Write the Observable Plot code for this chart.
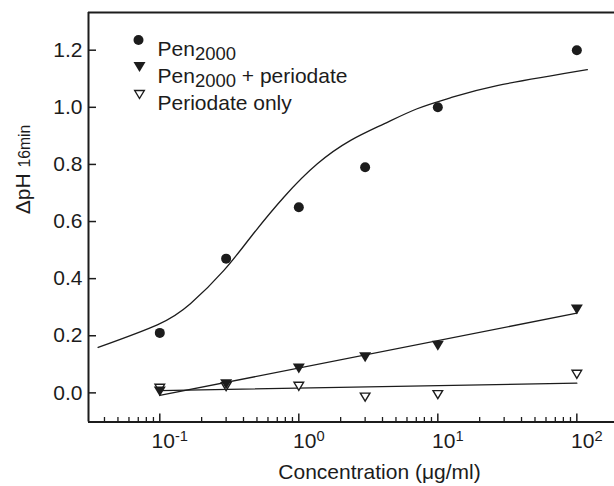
<!DOCTYPE html>
<html>
<head>
<meta charset="utf-8">
<script src="https://cdn.jsdelivr.net/npm/d3@7"></script>
<script src="https://cdn.jsdelivr.net/npm/@observablehq/plot@0.6"></script>
<style>
  html, body { margin: 0; padding: 0; background: #fff; }
</style>
</head>
<body>
<div id="chart"></div>
<script>
// ---- data ----
const concentrations = [0.1, 0.3, 1, 3, 10, 100];
const pen2000 = [0.21, 0.47, 0.65, 0.79, 1.0, 1.2];
const pen2000Periodate = [0.005, 0.03, 0.085, 0.125, 0.165, 0.292];
const periodateOnly = [0.016, 0.022, 0.023, -0.015, -0.006, 0.065];

// fitted curves
const fitPenX = [0.036, 0.096, 0.166, 0.288, 0.45, 0.78, 1.36, 2.36, 4.1, 7.1, 12.3, 26.7, 119];
const fitPenY = [0.159, 0.238, 0.312, 0.428, 0.545, 0.685, 0.802, 0.884, 0.942, 0.995, 1.033, 1.076, 1.132];
const fitLinX = [0.1, 100];
const fitPenPeriodateY = [-0.009, 0.279];
const fitPeriodateOnlyY = [0.008, 0.034];

// axes
const xDomain = [0.0307, 186.6];
const yDomain = [-0.102, 1.332];
const xMajorTicks = [0.1, 1, 10, 100];
const xTickLabels = ["10^{-1}", "10^{0}", "10^{1}", "10^{2}"];
const xMinorTicks = [0.04, 0.05, 0.06, 0.07, 0.08, 0.09,
                     0.2, 0.3, 0.4, 0.5, 0.6, 0.7, 0.8, 0.9,
                     2, 3, 4, 5, 6, 7, 8, 9,
                     20, 30, 40, 50, 60, 70, 80, 90];
const yTicks = [0, 0.2, 0.4, 0.6, 0.8, 1.0, 1.2];
const yTickLabels = ["0.0", "0.2", "0.4", "0.6", "0.8", "1.0", "1.2"];
const legendLabels = ["Pen_{2000}", "Pen_{2000} + periodate", "Periodate only"];
const xLabel = "Concentration (\u03bcg/ml)";
const yLabel = "\u0394pH ~{16min}";

// ---- build ----
const W = 614, H = 486;
const mL = 88, mT = 12, mB = 64.5, mR = 0;
const innerW = W - mL - mR, innerH = H - mT - mB;
const ink = "#1c1c1c";
const fs = 21;

const pts = (ys) => concentrations.map((x, i) => ({x, y: ys[i]}));
const fitPen = fitPenX.map((x, i) => ({x, y: fitPenY[i]}));
const fitA = fitLinX.map((x, i) => ({x, y: fitPenPeriodateY[i]}));
const fitB = fitLinX.map((x, i) => ({x, y: fitPeriodateOnlyY[i]}));

const triangleDown = {
  draw(context, size) {
    const r = Math.sqrt(size / Math.PI);
    context.moveTo(-1.2 * r, -r);
    context.lineTo(1.2 * r, -r);
    context.lineTo(0, r);
    context.closePath();
  }
};

const legendRows = [
  {dy: 27.5, symbol: "circle", r: 5, fill: ink, stroke: "none"},
  {dy: 54.5, symbol: triangleDown, r: 5, fill: ink, stroke: "none"},
  {dy: 82, symbol: triangleDown, r: 4, fill: "white", stroke: ink}
];

const marks = [
  // frame lines (left, bottom, top)
  Plot.ruleX([xDomain[0]], {stroke: ink, strokeWidth: 2}),
  Plot.ruleY([yDomain[0], yDomain[1]], {stroke: ink, strokeWidth: 2}),
  // inward ticks
  Plot.tickX(xMajorTicks, {x: d => d, insetTop: innerH - 8, stroke: ink, strokeWidth: 1.5}),
  Plot.tickX(xMinorTicks, {x: d => d, insetTop: innerH - 4.5, stroke: ink, strokeWidth: 1.3}),
  Plot.tickY(yTicks, {y: d => d, insetRight: innerW - 8, stroke: ink, strokeWidth: 1.5}),
  // tick labels
  Plot.text(xMajorTicks, {x: d => d, text: (d, i) => xTickLabels[i], frameAnchor: "bottom",
    dx: 10, dy: 25.5, lineAnchor: "bottom", fontSize: fs, fill: ink}),
  Plot.text(yTicks, {y: d => d, text: (d, i) => yTickLabels[i], frameAnchor: "left",
    dx: -6, textAnchor: "end", fontSize: fs, fill: ink}),
  // axis labels
  Plot.text([xLabel], {frameAnchor: "bottom", dx: 28, dy: 56.5, lineAnchor: "bottom", fontSize: fs, fill: ink}),
  Plot.text([yLabel], {frameAnchor: "left", rotate: -90, dx: -58.5, dy: -3, lineAnchor: "bottom", fontSize: fs, fill: ink}),
  // fits
  Plot.line(fitPen, {x: "x", y: "y", curve: "natural", stroke: ink, strokeWidth: 1.3}),
  Plot.line(fitA, {x: "x", y: "y", stroke: ink, strokeWidth: 1.3}),
  Plot.line(fitB, {x: "x", y: "y", stroke: ink, strokeWidth: 1.3}),
  // points
  Plot.dot(pts(pen2000), {x: "x", y: "y", symbol: "circle", r: 5, fill: ink, stroke: "none"}),
  Plot.dot(pts(periodateOnly), {x: "x", y: "y", symbol: triangleDown, r: 4, fill: "white", stroke: ink, strokeWidth: 1.4}),
  Plot.dot(pts(pen2000Periodate), {x: "x", y: "y", symbol: triangleDown, r: 5, fill: ink, stroke: "none"})
];

legendRows.forEach((row, i) => {
  marks.push(Plot.dot([legendLabels[i]], {frameAnchor: "top-left", dx: i === 0 ? 50 : 51, dy: row.dy,
    symbol: row.symbol, r: row.r, fill: row.fill, stroke: row.stroke, strokeWidth: 1.4}));
  marks.push(Plot.text([legendLabels[i]], {frameAnchor: "top-left", dx: 69, dy: row.dy + 1,
    textAnchor: "start", fontSize: fs, fill: ink}));
});

const chart = Plot.plot({
  width: W, height: H,
  marginLeft: mL, marginRight: mR, marginTop: mT, marginBottom: mB,
  style: {fontFamily: "Arial, 'Liberation Sans', Helvetica, sans-serif", fontSize: fs + "px", background: "white", overflow: "visible"},
  x: {type: "log", domain: xDomain, axis: null},
  y: {domain: yDomain, axis: null},
  marks
});

document.getElementById("chart").appendChild(chart);

// rich text: _{sub}, ^{sup}, ~{small}
const SVGNS = "http://www.w3.org/2000/svg";
chart.querySelectorAll("text").forEach(t => {
  const s = t.textContent;
  if (!/[_^~]\{/.test(s)) return;
  const size = parseFloat(getComputedStyle(t).fontSize) || fs;
  while (t.firstChild) t.removeChild(t.firstChild);
  const re = /([_^~])\{([^}]*)\}/g;
  let last = 0, m, cur = 0;
  const add = (str, kind) => {
    if (!str) return;
    const ts = document.createElementNS(SVGNS, "tspan");
    ts.textContent = str;
    let target = 0, scale = 1;
    if (kind === "_") { target = 0.2 * size; scale = 0.88; }
    else if (kind === "^") { target = -0.33 * size; scale = 0.7; }
    else if (kind === "~") { target = 0; scale = 0.75; }
    if (scale !== 1) ts.setAttribute("font-size", (size * scale) + "px");
    if (target !== cur) { ts.setAttribute("dy", (target - cur) + "px"); cur = target; }
    t.appendChild(ts);
  };
  while ((m = re.exec(s))) {
    add(s.slice(last, m.index), "");
    add(m[2], m[1]);
    last = re.lastIndex;
  }
  add(s.slice(last), "");
});
</script>
</body>
</html>
